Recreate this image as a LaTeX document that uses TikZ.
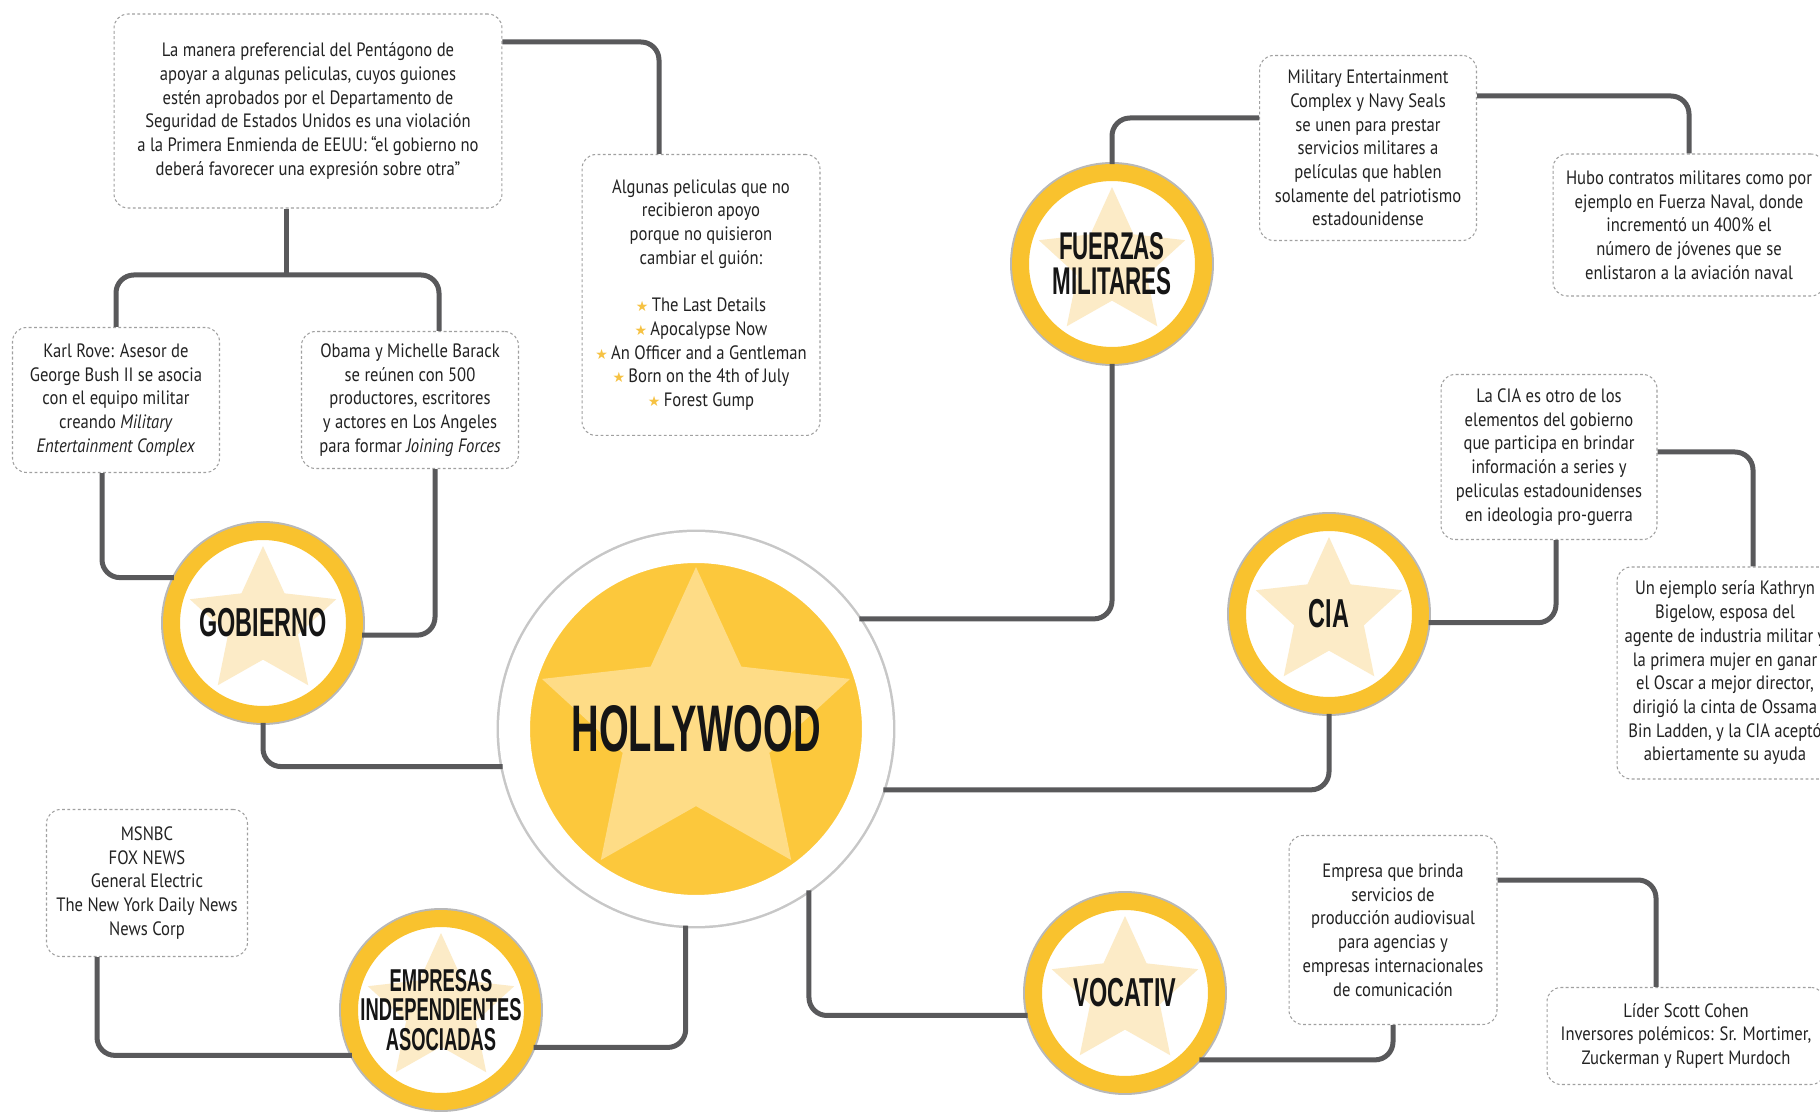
\documentclass[tikz,border=0pt]{standalone}
\usepackage{fontspec}
\setmainfont{PT Sans}[FakeStretch=0.86]
\newfontfamily\titlefont{Liberation Sans}[FakeStretch=0.58]
\newfontfamily\symfont{DejaVu Sans}
\usetikzlibrary{shapes.geometric}

\definecolor{ringyellow}{HTML}{F9C22E}
\definecolor{discyellow}{HTML}{FCC83C}
\definecolor{stargold}{HTML}{FEDC86}
\definecolor{starpale}{HTML}{FCEBC7}
\definecolor{connline}{HTML}{59595B}
\definecolor{boxline}{HTML}{A0A0A0}
\definecolor{boxtext}{HTML}{222222}
\definecolor{titleblack}{HTML}{151515}
\definecolor{bulletstar}{HTML}{F6C243}

\newcommand{\hubfont}[2]{\titlefont\bfseries\fontsize{#1}{#2}\selectfont}
\newcommand{\bstar}{{\color{bulletstar}\symfont\fontsize{8}{8}\selectfont ★}\,}

\begin{document}
\begin{tikzpicture}[x=0.02cm, y=-0.02cm,
    conn/.style={draw=connline, line width=0.1cm, rounded corners=0.36cm},
    note/.style={draw=boxline, line width=0.6pt, dash pattern=on 1.6pt off 1.4pt,
      rounded corners=0.28cm, align=center, inner sep=0pt, text=boxtext,
      font=\fontsize{11}{13.5}\selectfont},
    hubstar/.style 2 args={path picture={\node[star, star points=5, star point ratio=2.1,
      minimum size=#1, inner sep=0pt, fill=#2, draw=none]
      at (path picture bounding box.center) {};}},
    hub/.style={circle, draw=ringyellow, line width=0.34cm, fill=white,
      minimum size=3.66cm, inner sep=0pt, align=center, text=titleblack,
      font={\hubfont{23}{21}}, preaction={draw=black!28, line width=0.42cm},
      hubstar={3.08cm}{starpale}},
    holly/.style={circle, draw=white, line width=0.62cm, fill=discyellow,
      minimum size=7.26cm, inner sep=0pt, text=titleblack,
      font={\hubfont{37.5}{40}}, preaction={draw=black!22, line width=0.72cm},
      hubstar={6.48cm}{stargold}}]
  \useasboundingbox (0,0) rectangle (1820,1114);
  \clip (0,0) rectangle (1820,1114);
  \fill[white] (0,0) rectangle (1820,1114);

  \node[holly] (holly) at (696,729) {HOLLYWOOD};
  \node[hub] (gob) at (263,623) {GOBIERNO};
  \node[hub, font={\hubfont{22}{20}}] (fuerzas) at (1112,264) {FUERZAS\\MILITARES};
  \node[hub] (cia) at (1329,614) {CIA};
  \node[hub] (vocativ) at (1125,993) {VOCATIV};
  \node[hub, font={\hubfont{18}{17}}] (empresas) at (441,1010) {EMPRESAS\\INDEPENDIENTES\\ASOCIADAS};

  \node[note, minimum width=7.76cm, minimum height=3.88cm] (pentagono) at (308,111)
    {La manera preferencial del Pentágono de\\apoyar a algunas peliculas, cuyos guiones\\
     estén aprobados por el Departamento de\\Seguridad de Estados Unidos es una violación\\
     a la Primera Enmienda de EEUU: “el gobierno no\\deberá favorecer una expresión sobre otra”};
  \node[note, minimum width=4.76cm, minimum height=5.62cm] (peliculas) at (701,295)
    {Algunas peliculas que no\\recibieron apoyo\\porque no quisieron\\cambiar el guión:\\[13.5pt]
     \bstar The Last Details\\\bstar Apocalypse Now\\\bstar An Officer and a Gentleman\\
     \bstar Born on the 4th of July\\\bstar Forest Gump};
  \node[note, minimum width=4.14cm, minimum height=2.9cm] (rove) at (116,400)
    {Karl Rove: Asesor de\\George Bush II  se asocia\\con el equipo militar\\
     creando \textit{Military}\\\textit{Entertainment Complex}};
  \node[note, minimum width=4.34cm, minimum height=2.74cm] (obama) at (410,400)
    {Obama y Michelle Barack\\se reúnen con 500\\productores, escritores\\
     y actores en Los Angeles\\para formar \textit{Joining Forces}};
  \node[note, minimum width=4.34cm, minimum height=3.7cm] (seals) at (1368,148)
    {Military Entertainment\\Complex y Navy Seals\\se unen para prestar\\servicios militares a\\
     películas que hablen\\solamente del patriotismo\\estadounidense};
  \node[note, minimum width=5.44cm, minimum height=2.84cm] (naval) at (1689,225)
    {Hubo contratos militares como por\\ejemplo en Fuerza Naval, donde\\incrementó un 400\% el\\
     número de jóvenes que se\\enlistaron a la aviación naval};
  \node[note, minimum width=4.32cm, minimum height=3.3cm] (ciatext) at (1549,457)
    {La CIA es otro de los\\elementos del gobierno\\que participa en brindar\\
     información a series y\\peliculas estadounidenses\\en ideologia pro-guerra};
  \node[note, minimum width=4.32cm, minimum height=4.24cm] (bigelow) at (1725,673)
    {Un ejemplo sería Kathryn\\Bigelow, esposa del\\agente de industria militar y\\
     la primera mujer en ganar\\el Oscar a mejor director,\\dirigió la cinta de Ossama\\
     Bin Ladden, y la CIA aceptó\\abiertamente su ayuda};
  \node[note, minimum width=4.16cm, minimum height=3.78cm] (servicios) at (1393,930)
    {Empresa que brinda\\servicios de\\producción audiovisual\\para agencias y\\
     empresas internacionales\\de comunicación};
  \node[note, minimum width=5.56cm, minimum height=1.94cm] (cohen) at (1686,1036)
    {Líder Scott Cohen\\Inversores polémicos: Sr. Mortimer,\\Zuckerman y Rupert Murdoch};
  \node[note, minimum width=4.02cm, minimum height=2.94cm] (medios) at (147,883)
    {MSNBC\\FOX NEWS\\General Electric\\The New York Daily News\\News Corp};

  \draw[conn] ([shift={(0,-69)}]pentagono.east) -| ([shift={(-42,0)}]peliculas.north);
  \draw[conn] ([shift={(-22,0)}]pentagono.south) -- ([shift={(-22,67)}]pentagono.south);
  \draw[conn] (rove.north) |- ([shift={(29,-56)}]obama.north) -- ([shift={(29,0)}]obama.north);
  \draw[conn] ([shift={(-14,0)}]rove.south) |- (gob.153);
  \draw[conn] ([shift={(25,0)}]obama.south) |- (gob.-7);
  \draw[conn] (gob.south) |- (holly.191);
  \draw[conn] (holly.34) -| (fuerzas.south);
  \draw[conn] (fuerzas.north) |- ([shift={(0,-30)}]seals.west);
  \draw[conn] ([shift={(0,-52)}]seals.east) -| (naval.north);
  \draw[conn] (holly.-18) -| (cia.south);
  \draw[conn] (cia.-5) -| ([shift={(7,0)}]ciatext.south);
  \draw[conn] ([shift={(0,-5)}]ciatext.east) -| ([shift={(28,0)}]bigelow.north);
  \draw[conn] (holly.-55) |- (vocativ.193);
  \draw[conn] (vocativ.-42) -| (servicios.south);
  \draw[conn] ([shift={(0,-50)}]servicios.east) -| ([shift={(-30,0)}]cohen.north);
  \draw[conn] (holly.-93) |- (empresas.-22);
  \draw[conn] ([shift={(-50,0)}]medios.south) |- (empresas.207);
\end{tikzpicture}
\end{document}
